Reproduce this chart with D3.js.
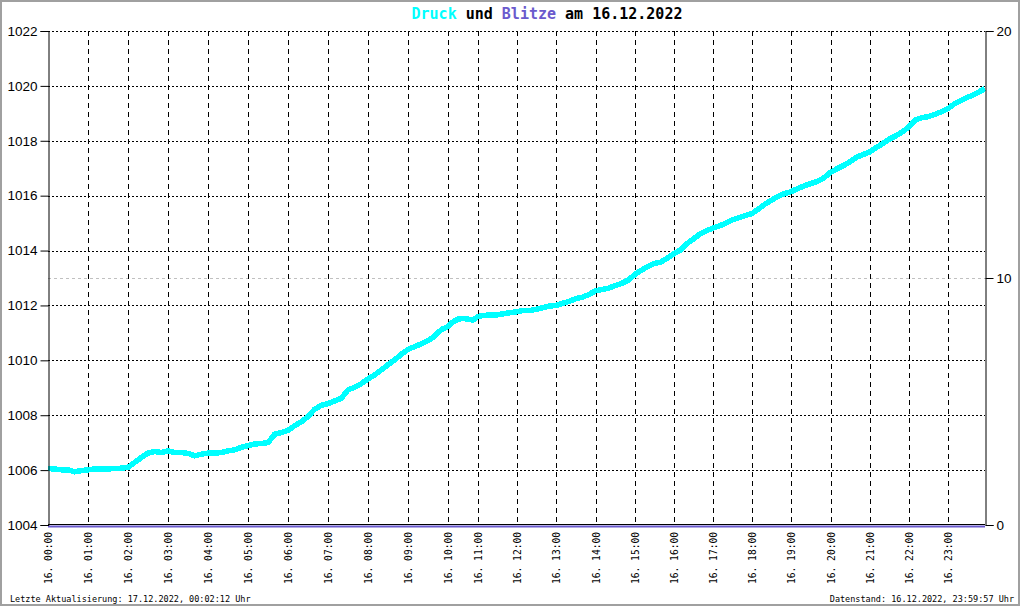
<!DOCTYPE html>
<html>
<head>
<meta charset="utf-8">
<script src="https://cdn.jsdelivr.net/npm/d3@7"></script>
<style>
  html, body { margin: 0; padding: 0; background: #fff; }
  svg { display: block; }
</style>
</head>
<body>
<svg id="chart" width="1020" height="606"></svg>
<script>
// ---------- data ----------
const hourLabels = ["16. 00:00","16. 01:00","16. 02:00","16. 03:00","16. 04:00","16. 05:00",
  "16. 06:00","16. 07:00","16. 08:00","16. 09:00","16. 10:00","16. 11:00","16. 12:00",
  "16. 13:00","16. 14:00","16. 15:00","16. 16:00","16. 17:00","16. 18:00","16. 19:00",
  "16. 20:00","16. 21:00","16. 22:00","16. 23:00"];
const pressureTicks = [1004,1006,1008,1010,1012,1014,1016,1018,1020,1022];
const lightningTicks = [0,10,20];
// pressure (hPa), one sample every 10 minutes from 00:00 to 24:00
const pressure = [
  1006.06,1006.04,1006.01,1006.01,1005.94,1005.98,
  1006.01,1006.04,1006.04,1006.04,1006.06,1006.07,
  1006.10,1006.28,1006.46,1006.62,1006.68,1006.64,
  1006.70,1006.64,1006.64,1006.61,1006.52,1006.58,
  1006.62,1006.62,1006.64,1006.70,1006.74,1006.83,
  1006.89,1006.95,1006.97,1007.00,1007.31,1007.37,
  1007.45,1007.62,1007.76,1007.95,1008.22,1008.36,
  1008.42,1008.52,1008.62,1008.92,1009.02,1009.15,
  1009.32,1009.47,1009.65,1009.84,1010.02,1010.22,
  1010.40,1010.50,1010.60,1010.72,1010.88,1011.12,
  1011.23,1011.40,1011.50,1011.53,1011.50,1011.47,
  1011.60,1011.64,1011.65,1011.66,1011.70,1011.74,
  1011.77,1011.82,1011.82,1011.86,1011.92,1011.98,
  1012.00,1012.08,1012.15,1012.25,1012.30,1012.40,
  1012.53,1012.58,1012.63,1012.72,1012.80,1012.92,
  1013.12,1013.28,1013.42,1013.53,1013.58,1013.72,
  1013.88,1014.02,1014.25,1014.42,1014.60,1014.72,
  1014.82,1014.90,1015.00,1015.12,1015.20,1015.28,
  1015.35,1015.52,1015.70,1015.84,1015.98,1016.08,
  1016.15,1016.26,1016.36,1016.44,1016.52,1016.65,
  1016.85,1016.98,1017.10,1017.24,1017.40,1017.50,
  1017.59,1017.75,1017.90,1018.06,1018.18,1018.32,
  1018.50,1018.76,1018.84,1018.88,1018.96,1019.06,
  1019.17,1019.34,1019.46,1019.57,1019.66,1019.78,
  1019.90
];
// lightning count per hour
const lightning = [0,0,0,0,0,0,0,0,0,0,0,0,0,0,0,0,0,0,0,0,0,0,0,0,0];

(function () {
// ---------- layout ----------
const W = 1020, H = 606;
const pL = 48, pR = 985, pT = 31, pB = 525;
const svg = d3.select("#chart");

svg.append("rect").attr("x",1).attr("y",1).attr("width",W-2).attr("height",H-2)
  .attr("fill","#fff").attr("stroke","#a0a0a0").attr("stroke-width",2);

// x axis is piecewise (the source chart compresses 10:00-11:00)
const x = d3.scaleLinear().domain([0,10,11,23,24]).range([pL,448,478,948,pR]);
const yL = d3.scaleLinear().domain([1004,1022]).range([pB,pT]);
const yR = d3.scaleLinear().domain([0,20]).range([pB,pT]);

// horizontal grid (dotted)
svg.append("g").selectAll("line").data(pressureTicks.filter(d => d > 1004)).join("line")
  .attr("x1",pL).attr("x2",pR)
  .attr("y1",d => Math.round(yL(d))+0.5).attr("y2",d => Math.round(yL(d))+0.5)
  .attr("stroke","#000").attr("stroke-width",1).attr("stroke-dasharray","2,2");

// gray grid line at right-axis midpoint
svg.append("line").attr("x1",pL).attr("x2",pR)
  .attr("y1",Math.round(yR(10))+0.5).attr("y2",Math.round(yR(10))+0.5)
  .attr("stroke","#c0c0c0").attr("stroke-width",1).attr("stroke-dasharray","3,3");

// vertical grid (dashed)
const hours = hourLabels.map((_, i) => i);
svg.append("g").selectAll("line").data(hours.filter(h => h > 0)).join("line")
  .attr("x1",h => Math.round(x(h))+0.5).attr("x2",h => Math.round(x(h))+0.5)
  .attr("y1",pT).attr("y2",pB)
  .attr("stroke","#000").attr("stroke-width",1).attr("stroke-dasharray","5,4");

// pressure line
const times = pressure.map((_, i) => i / 6);
svg.append("path")
  .datum(pressure)
  .attr("fill","none").attr("stroke","#00ffff").attr("stroke-width",5.5)
  .attr("stroke-linejoin","miter").attr("shape-rendering","crispEdges")
  .attr("d", d3.line().x((d,i) => x(times[i])).y(d => yL(d)));

// lightning line (all zero)
svg.append("path")
  .datum(lightning)
  .attr("fill","none").attr("stroke","#6a5acd").attr("stroke-width",2)
  .attr("transform","translate(0,1.5)")
  .attr("d", d3.line().x((d,i) => x(i)).y(d => yR(d)));

// axes
const axL = svg.append("g").attr("transform",`translate(${pL+0.5},0)`)
  .call(d3.axisLeft(yL).tickValues(pressureTicks).tickSize(8).tickPadding(3).tickFormat(d3.format("d")));
const axR = svg.append("g").attr("transform",`translate(${pR+0.5},0)`)
  .call(d3.axisRight(yR).tickValues(lightningTicks).tickSize(8).tickPadding(3).tickFormat(d3.format("d")));
[axL, axR].forEach(a => {
  a.selectAll("path").attr("stroke","#000").attr("stroke-width",1);
  a.selectAll("line").attr("stroke","#000");
  a.selectAll("text").attr("font-family","'Liberation Sans', Arial, sans-serif")
    .attr("font-size","13.5px").attr("fill","#000");
});
// bottom axis line
svg.append("line").attr("x1",pL).attr("x2",pR).attr("y1",pB-0.5).attr("y2",pB-0.5)
  .attr("stroke","#000").attr("stroke-width",1);

// x labels (rotated)
svg.append("g").selectAll("text").data(hourLabels).join("text")
  .attr("transform",(d,i) => `translate(${x(i)+4},${pB+7}) rotate(-90)`)
  .attr("text-anchor","end")
  .attr("font-family","'DejaVu Sans Mono', monospace").attr("font-size","9.6px")
  .attr("fill","#000")
  .text(d => d);

// title
const title = svg.append("text").attr("x",547).attr("y",19).attr("text-anchor","middle")
  .attr("font-family","'DejaVu Sans Mono', monospace").attr("font-size","15px").attr("font-weight","bold");
title.append("tspan").attr("fill","#00ffff").text("Druck");
title.append("tspan").attr("fill","#000").text(" und ");
title.append("tspan").attr("fill","#6a5acd").text("Blitze");
title.append("tspan").attr("fill","#000").text(" am 16.12.2022");

// footer
svg.append("text").attr("x",10).attr("y",602)
  .attr("font-family","'DejaVu Sans Mono', monospace").attr("font-size","8.5px").attr("fill","#000")
  .text("Letzte Aktualisierung: 17.12.2022, 00:02:12 Uhr");
svg.append("text").attr("x",1014).attr("y",602).attr("text-anchor","end")
  .attr("font-family","'DejaVu Sans Mono', monospace").attr("font-size","8.5px").attr("fill","#000")
  .text("Datenstand: 16.12.2022, 23:59:57 Uhr");
})();
</script>
</body>
</html>
